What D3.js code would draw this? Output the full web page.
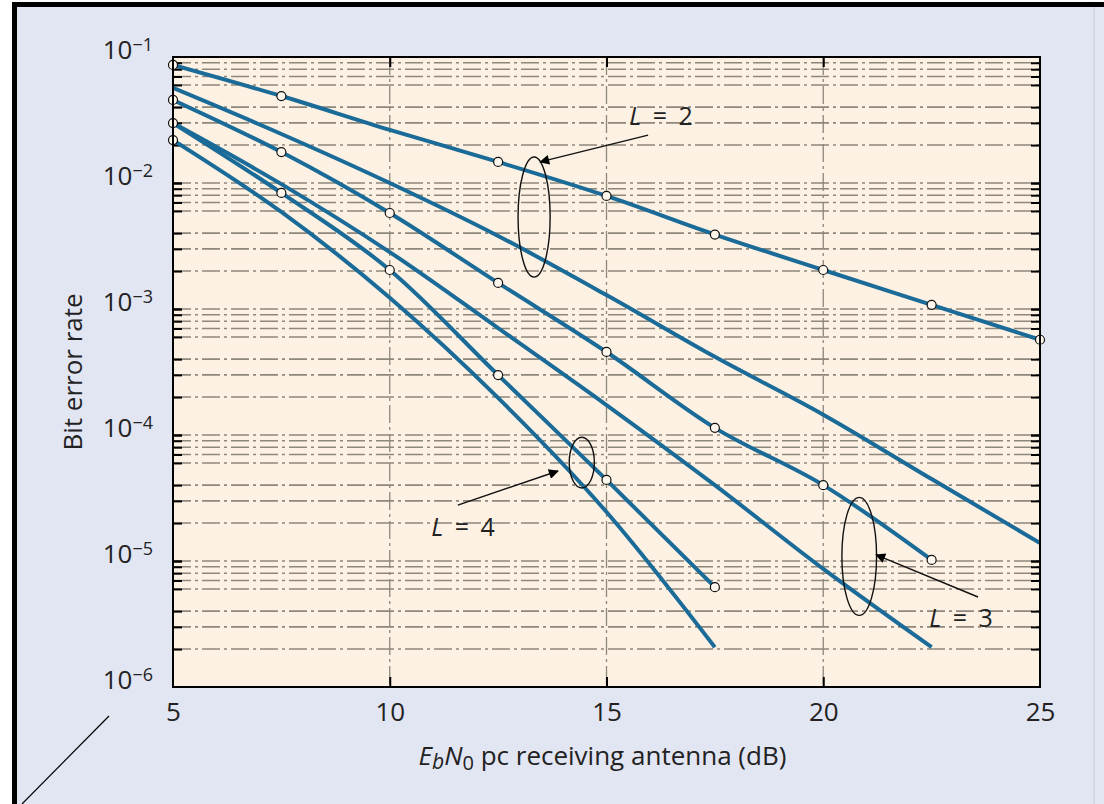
<!DOCTYPE html>
<html lang="en">
<head>
<meta charset="utf-8">
<title>Bit error rate vs Eb/N0</title>
<script src="https://d3js.org/d3.v7.min.js"></script>
<style>
  body { margin: 0; background: #fff; }
  svg { display: block; font-family: "Open Sans", sans-serif; }
</style>
</head>
<body>
<script>

// Eb/N0 per receiving antenna (dB)
var ebn0 = [5, 7.5, 10, 12.5, 15, 17.5, 20, 22.5, 25];

// bit error rate
var berL2a = [0.0865, 0.049, 0.0264, 0.0147, 0.0079, 0.0039, 0.00204, 0.00108, 0.00057];
var berL2b = [0.0568, 0.0245, 0.0100, 0.0038, 0.00129, 0.000417, 0.000145, 0.0000447, 0.0000139];
var berL3a = [0.0456, 0.0176, 0.00578, 0.00161, 0.000456, 0.000114, 0.000040, 0.0000102];
var berL3b = [0.0299, 0.0098, 0.00283, 0.000706, 0.000173, 0.000040, 0.00000865, 0.00000207];
var berL4a = [0.0299, 0.00834, 0.00204, 0.000299, 0.000044, 0.0000062];
var berL4b = [0.0219, 0.00589, 0.00123, 0.000197, 0.0000245, 0.00000207];

// where the circle markers sit (dB)
var marksL2a = [5, 7.5, 12.5, 15, 17.5, 20, 22.5, 25];
var marksL3a = [5, 7.5, 10, 12.5, 15, 17.5, 20, 22.5];
var marksL4a = [5, 7.5, 10, 12.5, 15, 17.5];
var marksL4b = [5];

var xTicks = [5, 10, 15, 20, 25];
var yDecades = [1e-1, 1e-2, 1e-3, 1e-4, 1e-5, 1e-6];
var gridMant = [1, 2, 3, 4, 6, 7, 8, 9];

// annotations: label pos, arrow start, arrow tip, ellipse (x, yTop, yBottom, rx in dB)
var notes = [
  {label: "2", lx: 16.26, ly: 0.034, ax: 15.96, ay: 0.024, tx: 13.47, ty: 0.0147, ex: 13.33, eTop: 0.0161, eBot: 0.00179, erx: 0.37},
  {label: "3", lx: 23.18, ly: 3.53e-6, ax: 23.57, ay: 5.18e-6, tx: 21.22, ty: 1.12e-5, ex: 20.83, eTop: 3.2e-5, eBot: 3.7e-6, erx: 0.40},
  {label: "4", lx: 11.69, ly: 1.86e-5, ax: 11.57, ay: 2.78e-5, tx: 13.88, ty: 5.18e-5, ex: 14.43, eTop: 9.6e-5, eBot: 3.8e-5, erx: 0.29}
];

var W = 1104, H = 804;
var pLeft = 173, pRight = 1040, pTop = 57, pBottom = 687;
var curveColor = "#1b6b98";
var gridColor = "#8d877c";

var svg = d3.select("body").append("svg")
  .attr("width", W)
  .attr("height", H);

// page frame
svg.append("rect").attr("width", W).attr("height", H).attr("fill", "#fff");
svg.append("rect").attr("x", 12).attr("y", 2).attr("width", W - 12).attr("height", H - 2).attr("fill", "#e2e5f2");
svg.append("rect").attr("x", 12).attr("y", 2).attr("width", 5).attr("height", H - 2).attr("fill", "#000");
svg.append("rect").attr("x", 12).attr("y", 2).attr("width", W - 12).attr("height", 5).attr("fill", "#000");
svg.append("line").attr("x1", 1094).attr("x2", 1094).attr("y1", 7).attr("y2", H)
  .attr("stroke", "#c9ccd8").attr("stroke-width", 1);
svg.append("line").attr("x1", 109).attr("y1", 716).attr("x2", 22).attr("y2", 804)
  .attr("stroke", "#000").attr("stroke-width", 1.2);

var x = d3.scaleLinear().domain([5, 25]).range([pLeft, pRight]);
var y = d3.scaleLog().domain([1e-6, 1e-1]).range([pBottom, pTop]);

svg.append("rect")
  .attr("x", pLeft).attr("y", pTop)
  .attr("width", pRight - pLeft).attr("height", pBottom - pTop)
  .attr("fill", "#fcf1e3");

svg.append("clipPath").attr("id", "plot")
  .append("rect")
  .attr("x", pLeft).attr("y", pTop)
  .attr("width", pRight - pLeft).attr("height", pBottom - pTop);

// grid values
var gridVals = [];
for (var k = -6; k <= -2; k++) {
  gridMant.forEach(function(m) { gridVals.push(m * Math.pow(10, k)); });
}
gridVals = gridVals.filter(function(v) { return v > 1.01e-6 && v < 0.099; });

svg.append("g").selectAll("line")
  .data(gridVals)
  .enter().append("line")
  .attr("x1", pLeft).attr("x2", pRight)
  .attr("y1", function(d) { return y(d); })
  .attr("y2", function(d) { return y(d); })
  .attr("stroke", gridColor)
  .attr("stroke-width", 1.6)
  .attr("stroke-dasharray", "18,4,3,4");

svg.append("g").selectAll("line")
  .data([10, 15, 20])
  .enter().append("line")
  .attr("x1", function(d) { return x(d); })
  .attr("x2", function(d) { return x(d); })
  .attr("y1", pTop).attr("y2", pBottom)
  .attr("stroke", gridColor)
  .attr("stroke-width", 1.3)
  .attr("stroke-dasharray", "18,4,3,4");

// inward ticks on all four sides
var minorTicks = gridVals.concat([1e-2, 1e-3, 1e-4, 1e-5]);
function plain(g) { g.select(".domain").remove(); }
svg.append("g").attr("transform", "translate(" + pLeft + ",0)")
  .call(d3.axisRight(y).tickValues(minorTicks).tickSize(9).tickFormat(""))
  .call(plain)
  .selectAll("line").attr("stroke", "#000").attr("stroke-width", 2);
svg.append("g").attr("transform", "translate(" + pRight + ",0)")
  .call(d3.axisLeft(y).tickValues(minorTicks).tickSize(9).tickFormat(""))
  .call(plain)
  .selectAll("line").attr("stroke", "#000").attr("stroke-width", 2);
svg.append("g").attr("transform", "translate(0," + pBottom + ")")
  .call(d3.axisTop(x).tickValues([10, 15, 20]).tickSize(10).tickFormat(""))
  .call(plain)
  .selectAll("line").attr("stroke", "#000").attr("stroke-width", 2);
svg.append("g").attr("transform", "translate(0," + pTop + ")")
  .call(d3.axisBottom(x).tickValues([10, 15, 20]).tickSize(10).tickFormat(""))
  .call(plain)
  .selectAll("line").attr("stroke", "#000").attr("stroke-width", 2);

// curves
var line = d3.line()
  .x(function(d) { return x(d[0]); })
  .y(function(d) { return y(d[1]); })
  .curve(d3.curveMonotoneX);

var series = [
  {ber: berL2a, marks: marksL2a},
  {ber: berL2b, marks: []},
  {ber: berL3a, marks: marksL3a},
  {ber: berL3b, marks: []},
  {ber: berL4a, marks: marksL4a},
  {ber: berL4b, marks: marksL4b}
];

var curves = svg.append("g").attr("clip-path", "url(#plot)");
series.forEach(function(s) {
  var pts = s.ber.map(function(v, i) { return [ebn0[i], v]; });
  curves.append("path")
    .datum(pts)
    .attr("d", line)
    .attr("fill", "none")
    .attr("stroke", curveColor)
    .attr("stroke-width", 4);
});

var markPts = [];
series.forEach(function(s) {
  s.marks.forEach(function(m) {
    var i = ebn0.indexOf(m);
    markPts.push([m, s.ber[i]]);
  });
});
svg.append("g").selectAll("circle")
  .data(markPts)
  .enter().append("circle")
  .attr("cx", function(d) { return x(d[0]); })
  .attr("cy", function(d) { return y(d[1]); })
  .attr("r", 4.5)
  .attr("fill", "#fdf6ec")
  .attr("stroke", "#111")
  .attr("stroke-width", 1.2);

// plot border
svg.append("rect")
  .attr("x", pLeft).attr("y", pTop)
  .attr("width", pRight - pLeft).attr("height", pBottom - pTop)
  .attr("fill", "none")
  .attr("stroke", "#000")
  .attr("stroke-width", 2);

// annotations
var defs = svg.append("defs");
defs.append("marker").attr("id", "head")
  .attr("viewBox", "0 0 10 10").attr("refX", 9).attr("refY", 5)
  .attr("markerWidth", 14).attr("markerHeight", 10)
  .attr("markerUnits", "userSpaceOnUse")
  .attr("orient", "auto")
  .append("path").attr("d", "M0,0 L10,5 L0,10 Z").attr("fill", "#000");

var ann = svg.append("g");
notes.forEach(function(n) {
  var cy = (y(n.eTop) + y(n.eBot)) / 2;
  ann.append("ellipse")
    .attr("cx", x(n.ex)).attr("cy", cy)
    .attr("rx", x(n.ex + n.erx) - x(n.ex))
    .attr("ry", (y(n.eBot) - y(n.eTop)) / 2)
    .attr("fill", "none").attr("stroke", "#111").attr("stroke-width", 1.4);
  ann.append("line")
    .attr("x1", x(n.ax)).attr("y1", y(n.ay))
    .attr("x2", x(n.tx)).attr("y2", y(n.ty))
    .attr("stroke", "#111").attr("stroke-width", 1.4)
    .attr("marker-end", "url(#head)");
  var t = ann.append("text")
    .attr("x", x(n.lx)).attr("y", y(n.ly))
    .attr("dy", "0.35em")
    .attr("text-anchor", "middle")
    .attr("font-size", 25)
    .attr("fill", "#222")
    .attr("word-spacing", 5);
  t.append("tspan").attr("font-style", "italic").text("L");
  t.append("tspan").text(" = " + n.label);
});

// y labels 10^-k
var gy = svg.append("g").attr("transform", "translate(" + pLeft + ",0)")
  .call(d3.axisLeft(y).tickValues(yDecades).tickSize(0).tickPadding(20).tickFormat(""))
  .attr("font-family", null).attr("font-size", 26);
gy.select(".domain").remove();
gy.selectAll(".tick text").each(function(d) {
  var t = d3.select(this);
  t.attr("y", -7).attr("fill", "#222");
  t.append("tspan").text("10");
  t.append("tspan").attr("dy", "-0.42em").attr("font-size", 18)
    .text("\u2212" + Math.round(-Math.log10(d)));
});

// x labels
var gx = svg.append("g").attr("transform", "translate(0," + pBottom + ")")
  .call(d3.axisBottom(x).tickValues(xTicks).tickSize(0).tickPadding(16).tickFormat(d3.format("d")))
  .attr("font-family", null).attr("font-size", 26);
gx.select(".domain").remove();
gx.selectAll("text").attr("fill", "#222");

// axis titles
var xt = svg.append("text")
  .attr("x", (pLeft + pRight) / 2 - 4).attr("y", 765)
  .attr("text-anchor", "middle")
  .attr("font-size", 26).attr("fill", "#222");
xt.append("tspan").attr("font-style", "italic").text("E");
xt.append("tspan").attr("font-style", "italic").attr("font-size", 21).attr("dy", 4).text("b");
xt.append("tspan").attr("font-style", "italic").attr("dy", -4).text("N");
xt.append("tspan").attr("font-size", 20).attr("dy", 5).text("0");
xt.append("tspan").attr("dy", -5).text(" pc receiving antenna (dB)");

svg.append("text")
  .attr("transform", "translate(82," + (pTop + pBottom) / 2 + ") rotate(-90)")
  .attr("text-anchor", "middle")
  .attr("font-size", 26).attr("fill", "#222")
  .text("Bit error rate");

</script>
</body>
</html>
